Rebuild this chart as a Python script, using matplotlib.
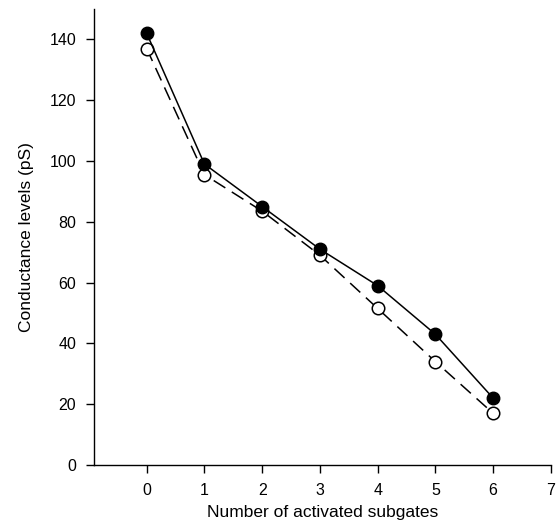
import matplotlib
matplotlib.use("Agg")
import matplotlib.pyplot as plt

plt.rcParams['font.family'] = ['Liberation Sans', 'DejaVu Sans']

subgates = [0, 1, 2, 3, 4, 5, 6]
filled_levels = [142, 99, 85, 71, 59, 43, 22]
open_levels = [137, 95.5, 83.5, 69, 51.5, 34, 17]
x_ticks = [0, 1, 2, 3, 4, 5, 6, 7]
y_ticks = [0, 20, 40, 60, 80, 100, 120, 140]

fig = plt.figure(figsize=(5.57, 5.29), dpi=100)
ax = fig.add_axes([0.169, 0.121, 0.82, 0.862])

ax.plot(subgates, open_levels, color='black', lw=1.1, dashes=(9, 5),
        marker='o', markersize=9, markerfacecolor='white',
        markeredgecolor='black', markeredgewidth=1.1, zorder=3)
ax.plot(subgates, filled_levels, color='black', lw=1.1, linestyle='-',
        marker='o', markersize=9, markerfacecolor='black',
        markeredgecolor='black', zorder=4)

ax.set_xlim(-0.91, 7)
ax.set_ylim(0, 150)
ax.set_xticks(x_ticks)
ax.set_yticks(y_ticks)

for side in ['top', 'right']:
    ax.spines[side].set_visible(False)
for side in ['left', 'bottom']:
    ax.spines[side].set_linewidth(1.0)

ax.tick_params(direction='out', length=6, width=1.0, labelsize=11.5, pad=7)

ax.set_xlabel("Number of activated subgates", fontsize=12.5, labelpad=5)
ax.set_ylabel("Conductance levels (pS)", fontsize=12.5, labelpad=11)

fig.savefig("out.png", dpi=100)
